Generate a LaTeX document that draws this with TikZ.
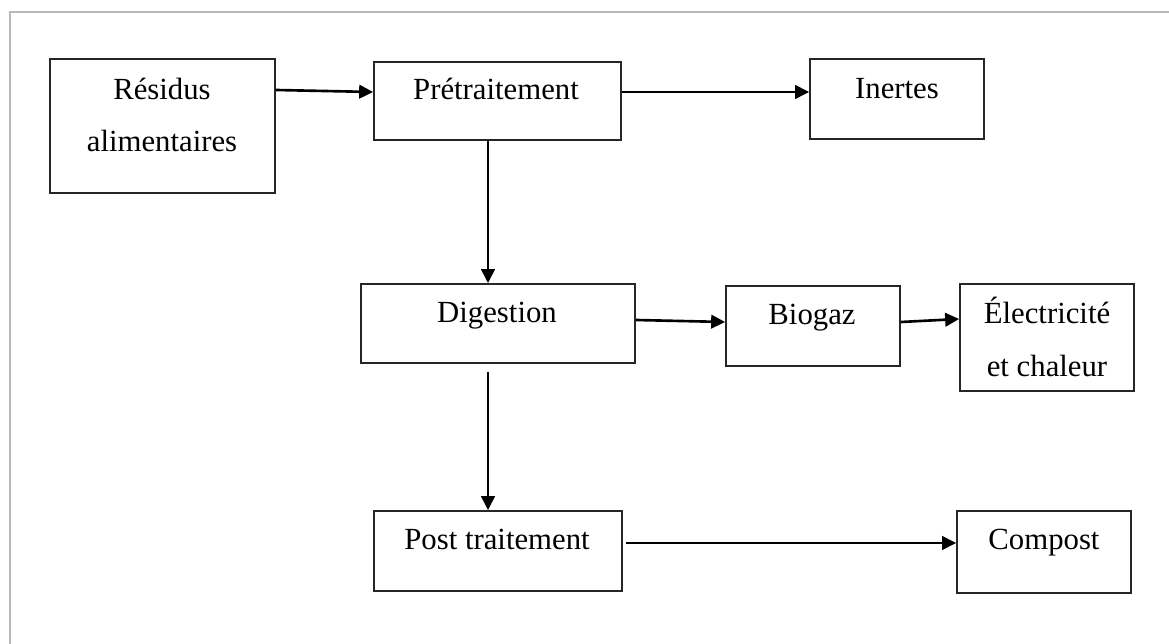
\documentclass[tikz,border=0pt]{standalone}
\usepackage{fontspec}
\setmainfont{Liberation Serif}
\usepackage{tikz}
\usetikzlibrary{arrows.meta}

\begin{document}
\begin{tikzpicture}[x=0.02cm,y=-0.02cm]
\tikzstyle{every node}+=[inner sep=0pt]
\tikzstyle{box}=[draw=black!85, line width=1pt, rectangle, minimum height=1.6cm]
\tikzstyle{txt}=[font=\fontsize{17.5}{30}\selectfont, align=center]
\tikzstyle{arr}=[line width=1.5pt, -{Triangle[length=2.8mm,width=2.7mm]}]
\useasboundingbox (0,0) rectangle (1169,644);
\draw [gray!55, line width=1.6pt] (10,644) -- (10,12) -- (1169,12);
% boxes
\node [box, minimum width=4.5cm, minimum height=2.68cm] (res) at (162.5,126) {};
\node [txt] (res-t) at (162,115) {Résidus\\alimentaires};
\node [box, minimum width=4.94cm, minimum height=1.56cm] (pre) at (497.5,101) {};
\node [txt, anchor=base] (pre-t) at (496,100) {Prétraitement};
\node [box, minimum width=3.48cm] (ine) at (897,99) {};
\node [txt, anchor=base] (ine-t) at (897,99) {Inertes};
\node [box, minimum width=5.48cm, minimum height=1.58cm] (dig) at (498,323.5) {};
\node [txt, anchor=base] (dig-t) at (497,323) {Digestion};
\node [box, minimum width=3.48cm] (bio) at (813,326) {};
\node [txt, anchor=base] (bio-t) at (812,325) {Biogaz};
\node [box, minimum width=3.48cm, minimum height=2.14cm] (ele) at (1047,337.5) {};
\node [txt] (ele-t) at (1047,337) {Électricité\\et chaleur};
\node [box, minimum width=4.96cm] (post) at (498,551) {};
\node [txt, anchor=base] (post-t) at (497,550) {Post traitement};
\node [box, minimum width=3.48cm, minimum height=1.64cm] (com) at (1044,552) {};
\node [txt, anchor=base] (com-t) at (1044,550) {Compost};
% flows
\draw [arr] (res.east |- 0,90) -- (pre.west |- 0,92);
\draw [arr] (pre.east |- 0,92) -- (ine.west |- 0,92);
\draw [arr] (pre.south -| 488,0) -- (dig.north -| 488,0);
\draw [arr] (dig.east |- 0,320) -- (bio.west |- 0,322);
\draw [arr] (bio.east |- 0,322) -- (ele.west |- 0,319);
\draw [arr] ([yshift=-0.16cm]dig.south -| 488,0) -- (post.north -| 488,0);
\draw [arr] ([xshift=0.06cm]post.east |- 0,543) -- (com.west |- 0,543);
\end{tikzpicture}
\end{document}
